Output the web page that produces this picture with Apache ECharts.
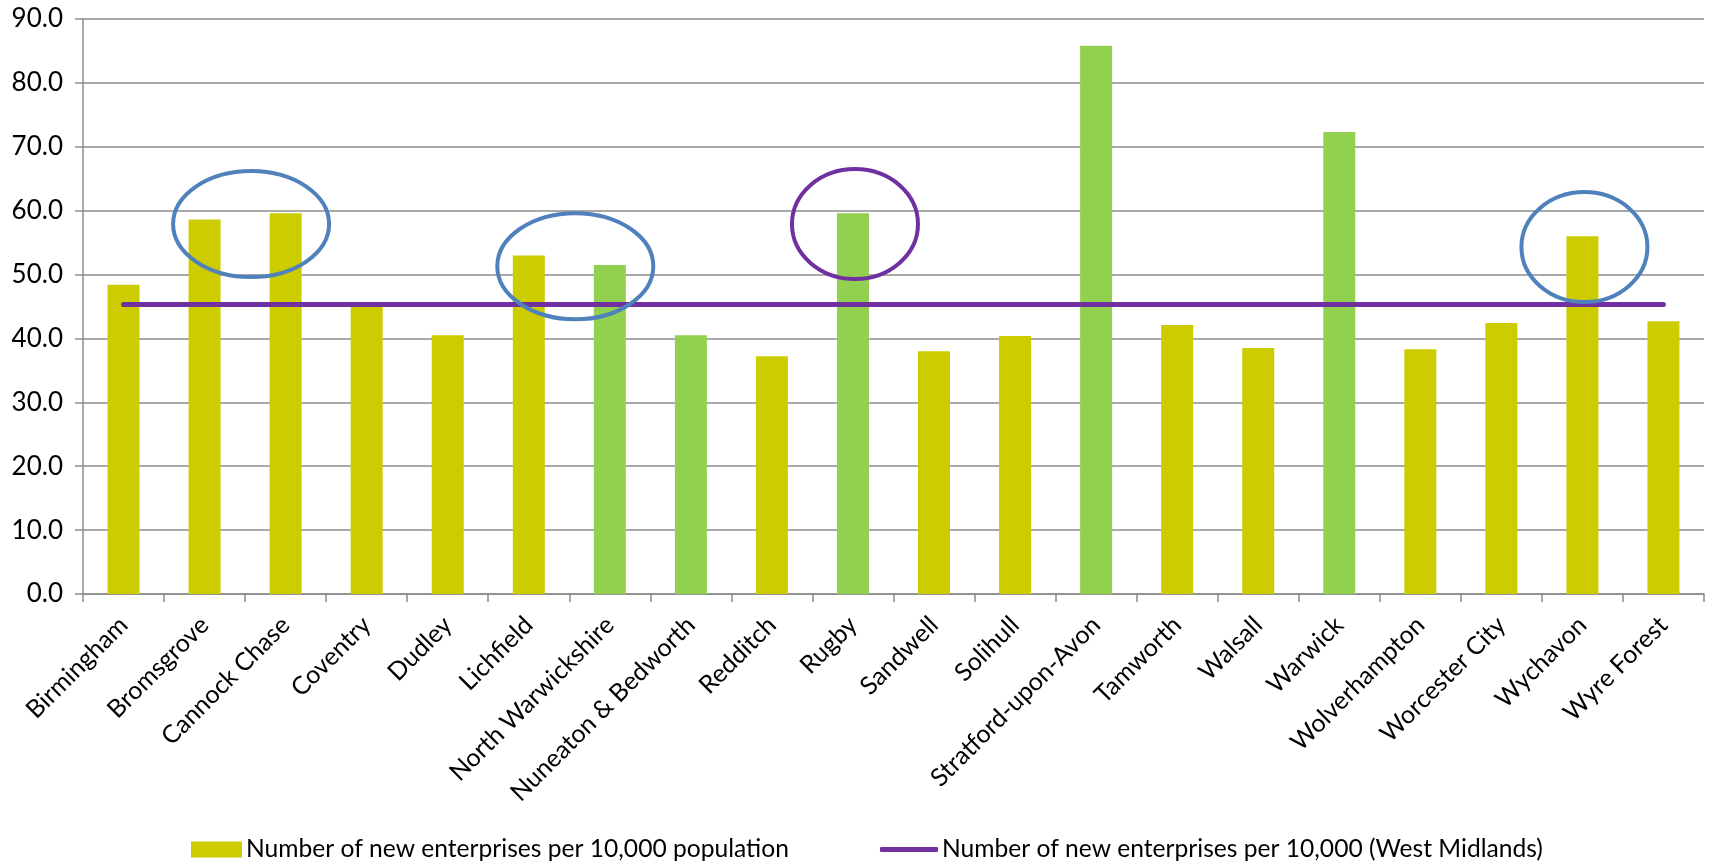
<!DOCTYPE html>
<html>
<head>
<meta charset="utf-8">
<script src="https://cdn.jsdelivr.net/npm/echarts@6/dist/echarts.min.js"></script>
<style>
  html, body { margin: 0; padding: 0; background: #ffffff; }
  #chart { width: 1710px; height: 864px; }
</style>
</head>
<body>
<div id="chart"></div>
<script>
// ---- data ----
const categories = ['Birmingham', 'Bromsgrove', 'Cannock Chase', 'Coventry', 'Dudley', 'Lichfield',
  'North Warwickshire', 'Nuneaton & Bedworth', 'Redditch', 'Rugby', 'Sandwell', 'Solihull',
  'Stratford-upon-Avon', 'Tamworth', 'Walsall', 'Warwick', 'Wolverhampton', 'Worcester City',
  'Wychavon', 'Wyre Forest'];
const newEnterprises = [48.4, 58.6, 59.6, 45.0, 40.5, 53.0, 51.5, 40.5, 37.2, 59.6, 38.0, 40.4,
  85.8, 42.1, 38.5, 72.3, 38.3, 42.4, 56.0, 42.7];
const westMidlandsValue = 45.3;
const westMidlands = categories.map(() => westMidlandsValue);
const warwickshireDistricts = ['North Warwickshire', 'Nuneaton & Bedworth', 'Rugby', 'Stratford-upon-Avon', 'Warwick'];
const yTicks = [0, 10, 20, 30, 40, 50, 60, 70, 80, 90];
const seriesNames = ['Number of new enterprises per 10,000 population', 'Number of new enterprises per 10,000 (West Midlands)'];
// annotation rings: categories enclosed and the value at the ring centre
const rings = [
  { cats: ['Bromsgrove', 'Cannock Chase'], value: 57.9, kind: 'blue' },
  { cats: ['Lichfield', 'North Warwickshire'], value: 51.3, kind: 'blue' },
  { cats: ['Rugby'], value: 57.9, kind: 'purple' },
  { cats: ['Wychavon'], value: 54.3, kind: 'blue' }
];

// ---- styles ----
const YELLOW = '#CCCC00', GREEN = '#92D050', PURPLE = '#7030A0', BLUE = '#4F81BD';
const FONT = 'Lato, "Open Sans", sans-serif';
const ringSize = { 2: [78, 53], 1: [63, 55] };

const chart = echarts.init(document.getElementById('chart'), null, { renderer: 'canvas' });

const option = {
  backgroundColor: '#ffffff',
  animation: false,
  textStyle: { fontFamily: FONT, color: '#000' },
  grid: { left: 83, right: 6, top: 19, bottom: 270, containLabel: false },
  legend: [
    {
      data: [{ name: seriesNames[0], icon: 'rect' }],
      left: 186, top: 832, itemWidth: 51, itemHeight: 16, itemGap: 4,
      textStyle: { fontFamily: FONT, fontSize: 24.6, color: '#000', padding: [0, 0, 0, -1] },
      selectedMode: false
    },
    {
      data: [{ name: seriesNames[1], icon: 'roundRect' }],
      left: 875, top: 832, itemWidth: 58, itemHeight: 5,
      textStyle: { fontFamily: FONT, fontSize: 24.6, color: '#000', padding: [0, 0, 0, -1] },
      selectedMode: false
    }
  ],
  xAxis: {
    type: 'category',
    data: categories,
    boundaryGap: true,
    axisLine: { show: true, lineStyle: { color: '#8c8c8c', width: 1.5 } },
    axisTick: { show: true, alignWithLabel: false, length: 8, lineStyle: { color: '#8c8c8c', width: 1.5 } },
    axisLabel: { interval: 0, rotate: 45, margin: 27, fontSize: 25, fontFamily: FONT, color: '#000' },
    splitLine: { show: false }
  },
  yAxis: {
    type: 'value',
    min: yTicks[0], max: yTicks[yTicks.length - 1], interval: 10,
    axisLine: { show: true, lineStyle: { color: '#8c8c8c', width: 1.5 } },
    axisTick: { show: true, length: 8, lineStyle: { color: '#8c8c8c', width: 1.5 } },
    axisLabel: { fontSize: 26, fontFamily: FONT, color: '#000', margin: 20, formatter: v => v.toFixed(1) },
    splitLine: { show: true, lineStyle: { color: '#8c8c8c', width: 1.5 } }
  },
  series: [
    {
      name: seriesNames[0],
      type: 'bar',
      barWidth: 32,
      itemStyle: { color: YELLOW },
      data: newEnterprises.map((v, i) => ({
        value: v,
        itemStyle: { color: warwickshireDistricts.includes(categories[i]) ? GREEN : YELLOW }
      })),
      z: 2
    },
    {
      name: seriesNames[1],
      type: 'line',
      data: westMidlands,
      symbol: 'none',
      showSymbol: false,
      itemStyle: { color: PURPLE },
      lineStyle: { color: PURPLE, width: 5, cap: 'round' },
      z: 3
    }
  ]
};

chart.setOption(option);

// draw annotation rings positioned through the chart's own scales
const graphics = rings.map(r => {
  const xs = r.cats.map(c => chart.convertToPixel({ xAxisIndex: 0 }, c));
  const cx = xs.reduce((a, b) => a + b, 0) / xs.length + (xs.length > 1 ? 6 : 2);
  const cy = chart.convertToPixel({ yAxisIndex: 0 }, r.value);
  const [rx, ry] = ringSize[r.cats.length];
  return {
    type: 'ellipse',
    shape: { cx: cx, cy: cy, rx: rx, ry: ry },
    style: { fill: 'none', stroke: r.kind === 'blue' ? BLUE : PURPLE, lineWidth: 4 },
    z: 100
  };
});
chart.setOption({ graphic: graphics });
</script>
</body>
</html>
